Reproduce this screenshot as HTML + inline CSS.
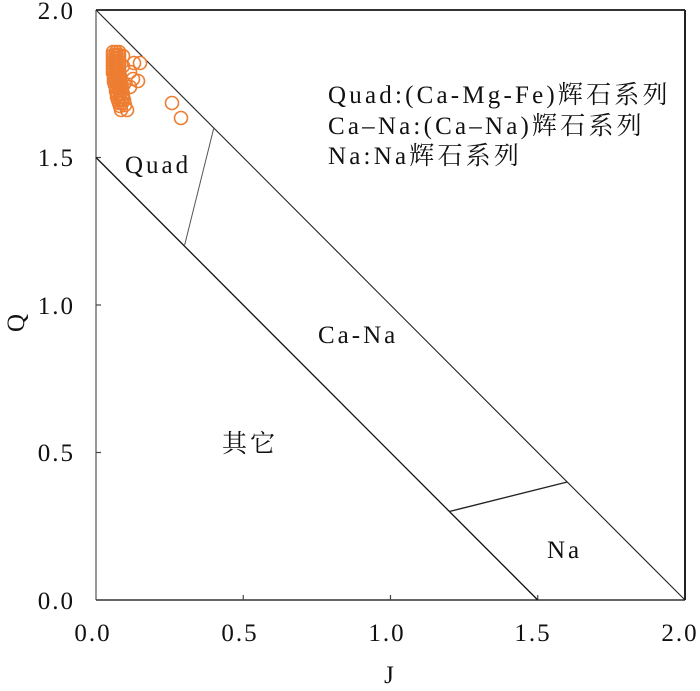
<!DOCTYPE html>
<html>
<head>
<meta charset="utf-8">
<style>
html,body{margin:0;padding:0;background:#fff;}
svg{display:block;}
svg text{font-family:"Liberation Serif","Times New Roman","DejaVu Serif","Noto Serif CJK SC",serif;}
</style>
</head>
<body>
<svg width="700" height="691" viewBox="0 0 700 691" xmlns="http://www.w3.org/2000/svg">
<rect width="700" height="691" fill="#fff"/>
<!-- axes -->
<line x1="96" y1="10" x2="685" y2="10" stroke="#333" stroke-width="2"/>
<line x1="685" y1="10" x2="685" y2="600" stroke="#222" stroke-width="2"/>
<line x1="96" y1="10" x2="96" y2="600" stroke="#777" stroke-width="1.5"/>
<line x1="96" y1="600" x2="685" y2="600" stroke="#333" stroke-width="1.5"/>
<!-- ticks -->
<g stroke="#444" stroke-width="1.2">
<line x1="96" y1="600" x2="101" y2="600"/>
<line x1="96" y1="452.5" x2="101" y2="452.5"/>
<line x1="96" y1="305" x2="101" y2="305"/>
<line x1="96" y1="157.5" x2="101" y2="157.5"/>
<line x1="96" y1="10" x2="101" y2="10"/>
<line x1="243.25" y1="600" x2="243.25" y2="595"/>
<line x1="390.5" y1="600" x2="390.5" y2="595"/>
<line x1="537.75" y1="600" x2="537.75" y2="595"/>
</g>
<!-- field lines -->
<line x1="96" y1="10" x2="685" y2="600" stroke="#222" stroke-width="1.1"/>
<line x1="96" y1="157.5" x2="537.75" y2="600" stroke="#111" stroke-width="1.3"/>
<line x1="184.4" y1="246" x2="213.8" y2="128" stroke="#555" stroke-width="1"/>
<line x1="449.4" y1="511.5" x2="567.2" y2="482" stroke="#222" stroke-width="1.4"/>
<!-- tick labels -->
<g style="font-family:'Liberation Serif','Times New Roman','DejaVu Serif',serif;font-size:25px;letter-spacing:2px;fill:#111;">
<text x="75" y="166" text-anchor="end">1.5</text>
<text x="75" y="19" text-anchor="end">2.0</text>
<text x="75" y="314" text-anchor="end">1.0</text>
<text x="75" y="461" text-anchor="end">0.5</text>
<text x="75" y="609" text-anchor="end">0.0</text>
<text x="93" y="641" text-anchor="middle">0.0</text>
<text x="240" y="641" text-anchor="middle">0.5</text>
<text x="387" y="641" text-anchor="middle">1.0</text>
<text x="533" y="641" text-anchor="middle">1.5</text>
<text x="680" y="641" text-anchor="middle">2.0</text>
</g>
<!-- axis labels -->
<g style="font-family:'Liberation Serif','Times New Roman','DejaVu Serif',serif;font-size:25px;fill:#111;">
<text x="389" y="683" text-anchor="middle">J</text>
<text x="0" y="0" text-anchor="middle" transform="translate(24,323) rotate(-90)">Q</text>
</g>
<!-- region labels -->
<g style="font-family:'Liberation Serif','Times New Roman','Noto Serif CJK SC',serif;font-size:25px;letter-spacing:3px;fill:#111;">
<text x="125" y="173">Quad</text>
<text x="318" y="343">Ca-Na</text>
<text x="547" y="558">Na</text>
<text x="222" y="452">其它</text>
</g>
<!-- legend -->
<g style="font-family:'Liberation Serif','Times New Roman','Noto Serif CJK SC',serif;font-size:25px;letter-spacing:3.2px;fill:#111;">
<text x="328" y="103">Quad:(Ca-Mg-Fe)辉石系列</text>
<text x="328" y="134">Ca–Na:(Ca–Na)辉石系列</text>
<text x="328" y="164">Na:Na辉石系列</text>
</g>
<!-- data points -->
<g fill="none" stroke="#ED7D31" stroke-width="1.6">
<circle cx="113" cy="52" r="6.5"/><circle cx="116" cy="52" r="6.5"/><circle cx="119" cy="52" r="6.5"/>
<circle cx="113" cy="55" r="6.5"/><circle cx="116" cy="55" r="6.5"/><circle cx="119" cy="55" r="6.5"/>
<circle cx="113" cy="58" r="6.5"/><circle cx="116" cy="58" r="6.5"/><circle cx="119" cy="58" r="6.5"/>
<circle cx="113" cy="61" r="6.5"/><circle cx="116" cy="61" r="6.5"/><circle cx="119" cy="61" r="6.5"/>
<circle cx="113" cy="64" r="6.5"/><circle cx="116" cy="64" r="6.5"/><circle cx="119" cy="64" r="6.5"/>
<circle cx="113" cy="67" r="6.5"/><circle cx="116" cy="67" r="6.5"/><circle cx="119" cy="67" r="6.5"/>
<circle cx="113" cy="70" r="6.5"/><circle cx="116" cy="70" r="6.5"/><circle cx="119" cy="70" r="6.5"/>
<circle cx="113" cy="73" r="6.5"/><circle cx="116" cy="73" r="6.5"/><circle cx="119" cy="73" r="6.5"/>
<circle cx="114" cy="76" r="6.5"/><circle cx="117" cy="76" r="6.5"/><circle cx="120" cy="76" r="6.5"/>
<circle cx="114" cy="79" r="6.5"/><circle cx="117" cy="79" r="6.5"/><circle cx="120" cy="79" r="6.5"/>
<circle cx="114" cy="82" r="6.5"/><circle cx="117" cy="82" r="6.5"/><circle cx="120" cy="82" r="6.5"/>
<circle cx="115" cy="85" r="6.5"/><circle cx="118" cy="85" r="6.5"/><circle cx="121" cy="85" r="6.5"/>
<circle cx="116" cy="88" r="6.5"/><circle cx="119" cy="88" r="6.5"/><circle cx="122" cy="88" r="6.5"/>
<circle cx="116" cy="91" r="6.5"/><circle cx="119" cy="91" r="6.5"/><circle cx="122" cy="91" r="6.5"/>
<circle cx="117" cy="94" r="6.5"/><circle cx="120" cy="94" r="6.5"/><circle cx="123" cy="94" r="6.5"/>
<circle cx="117" cy="97" r="6.5"/><circle cx="120" cy="97" r="6.5"/><circle cx="123" cy="97" r="6.5"/>
<circle cx="118" cy="100" r="6.5"/><circle cx="121" cy="100" r="6.5"/><circle cx="124" cy="100" r="6.5"/>
<circle cx="119" cy="103" r="6.5"/><circle cx="122" cy="103" r="6.5"/>
<circle cx="120" cy="106" r="6.5"/><circle cx="125" cy="105" r="6.5"/>
<circle cx="121" cy="110" r="6.5"/><circle cx="127" cy="110" r="6.5"/>
<circle cx="124" cy="84" r="6.5"/><circle cx="123" cy="66" r="6.5"/><circle cx="123" cy="56" r="6.5"/>
<circle cx="134" cy="63" r="6.5"/><circle cx="140" cy="63" r="6.5"/>
<circle cx="130" cy="72" r="6.5"/>
<circle cx="133" cy="79" r="6.5"/><circle cx="138" cy="81" r="6.5"/>
<circle cx="130" cy="87" r="6.5"/>
<circle cx="172" cy="103" r="6.5"/>
<circle cx="181" cy="118" r="6.5"/>
</g>
</svg>
</body>
</html>
